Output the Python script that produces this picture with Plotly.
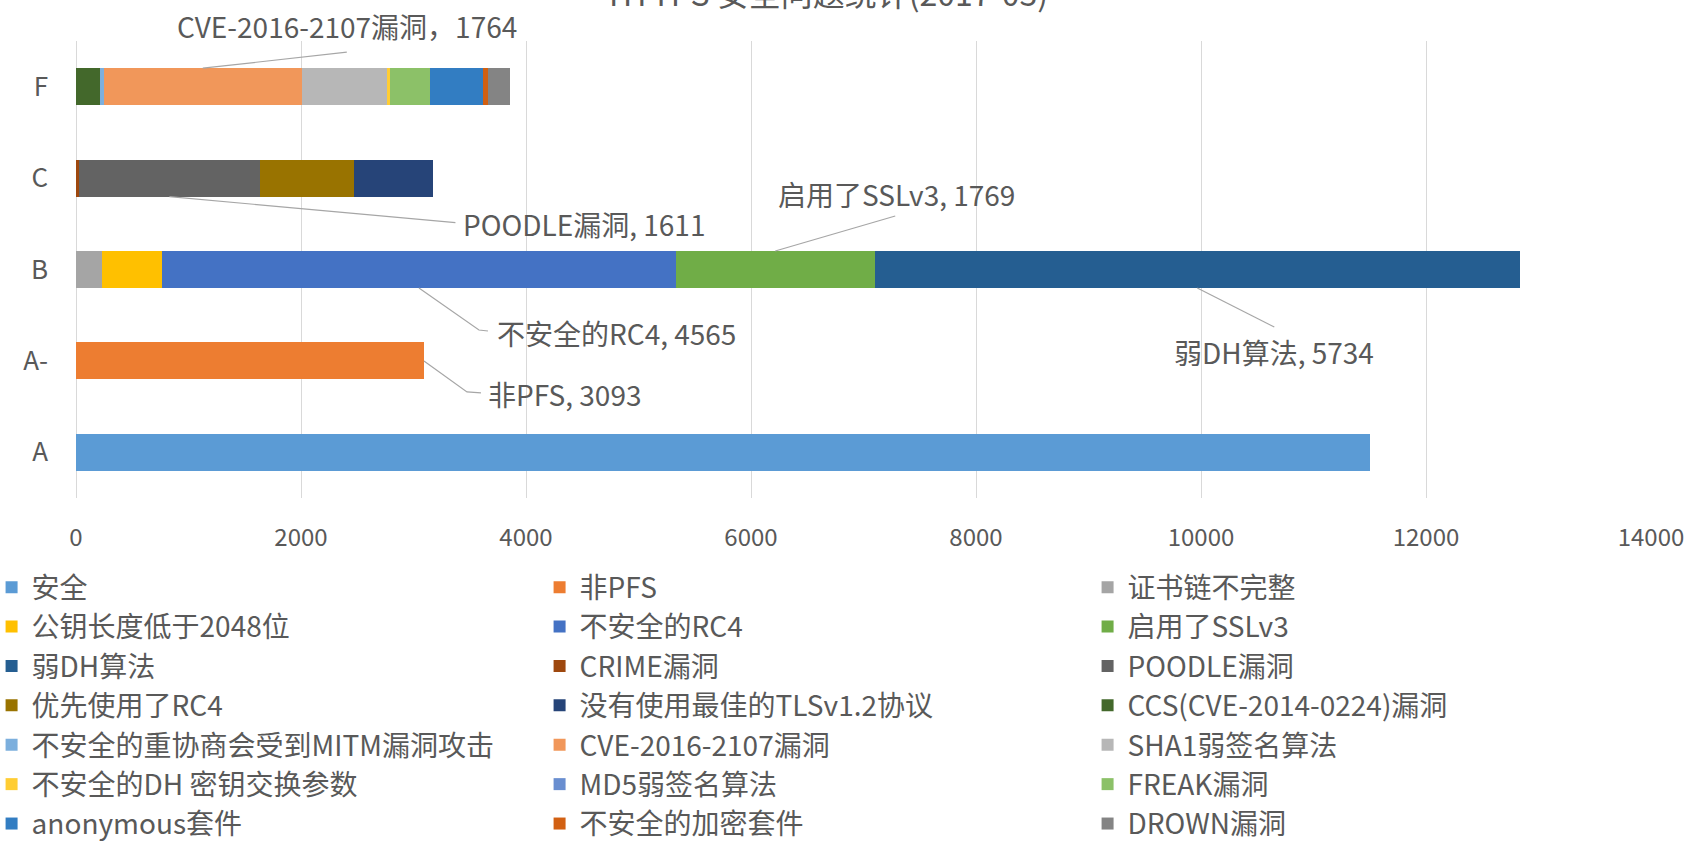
import plotly.graph_objects as go

categories = ["A", "A-", "B", "C", "F"]

series_names = [
    "安全", "非PFS", "证书链不完整",
    "公钥长度低于2048位", "不安全的RC4", "启用了SSLv3",
    "弱DH算法", "CRIME漏洞", "POODLE漏洞",
    "优先使用了RC4", "没有使用最佳的TLSv1.2协议", "CCS(CVE-2014-0224)漏洞",
    "不安全的重协商会受到MITM漏洞攻击", "CVE-2016-2107漏洞", "SHA1弱签名算法",
    "不安全的DH 密钥交换参数", "MD5弱签名算法", "FREAK漏洞",
    "anonymous套件", "不安全的加密套件", "DROWN漏洞",
]

# values per category, order: A, A-, B, C, F
series_values = [
    [11500, 0, 0, 0, 0],
    [0, 3093, 0, 0, 0],
    [0, 0, 230, 0, 0],
    [0, 0, 536, 0, 0],
    [0, 0, 4565, 0, 0],
    [0, 0, 1769, 0, 0],
    [0, 0, 5734, 0, 0],
    [0, 0, 0, 25, 0],
    [0, 0, 0, 1611, 0],
    [0, 0, 0, 832, 0],
    [0, 0, 0, 708, 0],
    [0, 0, 0, 0, 213],
    [0, 0, 0, 0, 32],
    [0, 0, 0, 0, 1764],
    [0, 0, 0, 0, 752],
    [0, 0, 0, 0, 31],
    [0, 0, 0, 0, 0],
    [0, 0, 0, 0, 359],
    [0, 0, 0, 0, 470],
    [0, 0, 0, 0, 38],
    [0, 0, 0, 0, 203],
]

series_colors = [
    "#5B9BD5", "#ED7D31", "#A5A5A5",
    "#FFC000", "#4472C4", "#70AD47",
    "#255E91", "#9E480E", "#636363",
    "#997300", "#264478", "#43682B",
    "#7CAFDD", "#F1975A", "#B7B7B7",
    "#FFCD33", "#698ED0", "#8CC168",
    "#327DC2", "#D26012", "#848484",
]

x_ticks = [0, 2000, 4000, 6000, 8000, 10000, 12000, 14000]

title_text = "HTTPS 安全问题统计(2017-03)"

FONT = "Noto Sans CJK SC, Noto Sans, sans-serif"
TXT = "#595959"
BARGAP = 0.595
H = (1 - BARGAP) / 2

ypos = list(range(len(categories)))

fig = go.Figure()
for name, vals, col in zip(series_names, series_values, series_colors):
    fig.add_trace(go.Bar(
        y=ypos, x=vals, name=name, orientation="h",
        marker=dict(color=col, line=dict(width=0)),
    ))


def seg_mid(series, cat):
    si = series_names.index(series)
    ci = categories.index(cat)
    start = sum(series_values[k][ci] for k in range(si))
    return start + series_values[si][ci] / 2


def seg_end(series, cat):
    si = series_names.index(series)
    ci = categories.index(cat)
    return sum(series_values[k][ci] for k in range(si + 1))


labels = [
    ("CVE-2016-2107漏洞", "F", "mid", +1, "M0,0 L144,16", (144, 42), "center",
     "CVE-2016-2107漏洞，1764"),
    ("POODLE漏洞", "C", "mid", -1, "M0,0 L286,-26", (292, -27), "left",
     "POODLE漏洞, 1611"),
    ("启用了SSLv3", "B", "mid", +1, "M0,0 L120,35", (121, 57), "center",
     "启用了SSLv3, 1769"),
    ("不安全的RC4", "B", "mid", -1, "M0,0 L60,-42 L69,-43", (76, -45), "left",
     "不安全的RC4, 4565"),
    ("非PFS", "A-", "end", 0, "M0,0 L43,-31 L57,-32", (62, -33), "left",
     "非PFS, 3093"),
    ("弱DH算法", "B", "mid", -1, "M0,0 L77,-39", (77, -64), "center",
     "弱DH算法, 5734"),
]

shapes = []
annotations = []
for series, cat, kind, side, path, (dx, dy), xanc, text in labels:
    xa = seg_mid(series, cat) if kind == "mid" else seg_end(series, cat)
    ya = categories.index(cat) + side * H
    shapes.append(dict(
        type="path", xref="x", yref="y", xsizemode="pixel", ysizemode="pixel",
        xanchor=xa, yanchor=ya, path=path,
        line=dict(color="#A6A6A6", width=1.2), layer="above",
    ))
    annotations.append(dict(
        x=xa, y=ya, xref="x", yref="y", text=text, showarrow=False,
        xshift=dx, yshift=dy, xanchor=xanc, yanchor="middle",
        font=dict(family=FONT, size=28, color=TXT),
    ))

annotations.append(dict(
    x=0.4775, y=1, xref="paper", yref="paper", text=title_text, showarrow=False,
    xanchor="center", yanchor="middle", yshift=49,
    font=dict(family=FONT, size=32, color=TXT),
))

fig.update_layout(
    width=1694, height=846,
    barmode="stack", bargap=BARGAP,
    paper_bgcolor="white", plot_bgcolor="white",
    margin=dict(l=76, r=43, t=41, b=348, autoexpand=False),
    font=dict(family=FONT, color=TXT),
    showlegend=True,
    legend=dict(
        orientation="h", x=-0.0536, xanchor="left", y=-0.141, yanchor="top",
        traceorder="normal",
        entrywidth=503, entrywidthmode="pixels",
        font=dict(family=FONT, size=28, color=TXT),
        bgcolor="rgba(0,0,0,0)",
    ),
    xaxis=dict(
        range=[0, 14000], tickvals=x_ticks, ticktext=[str(v) for v in x_ticks],
        showgrid=True, gridcolor="#D9D9D9", gridwidth=1,
        zeroline=True, zerolinecolor="#D9D9D9", zerolinewidth=1,
        showline=False, ticks="", ticklabelstandoff=23, automargin=False,
        tickfont=dict(family=FONT, size=24, color=TXT),
        fixedrange=True,
    ),
    yaxis=dict(
        range=[-0.5, len(categories) - 0.5],
        tickvals=ypos, ticktext=categories,
        showgrid=False, zeroline=False, showline=False, ticks="",
        ticklabelstandoff=27, automargin=False,
        tickfont=dict(family=FONT, size=26, color=TXT),
        fixedrange=True,
    ),
    shapes=shapes,
    annotations=annotations,
)

fig.write_html(
    "out.html",
    config={"displayModeBar": False},
    post_script="document.body.style.margin='0';document.body.style.overflow='hidden';",
)
